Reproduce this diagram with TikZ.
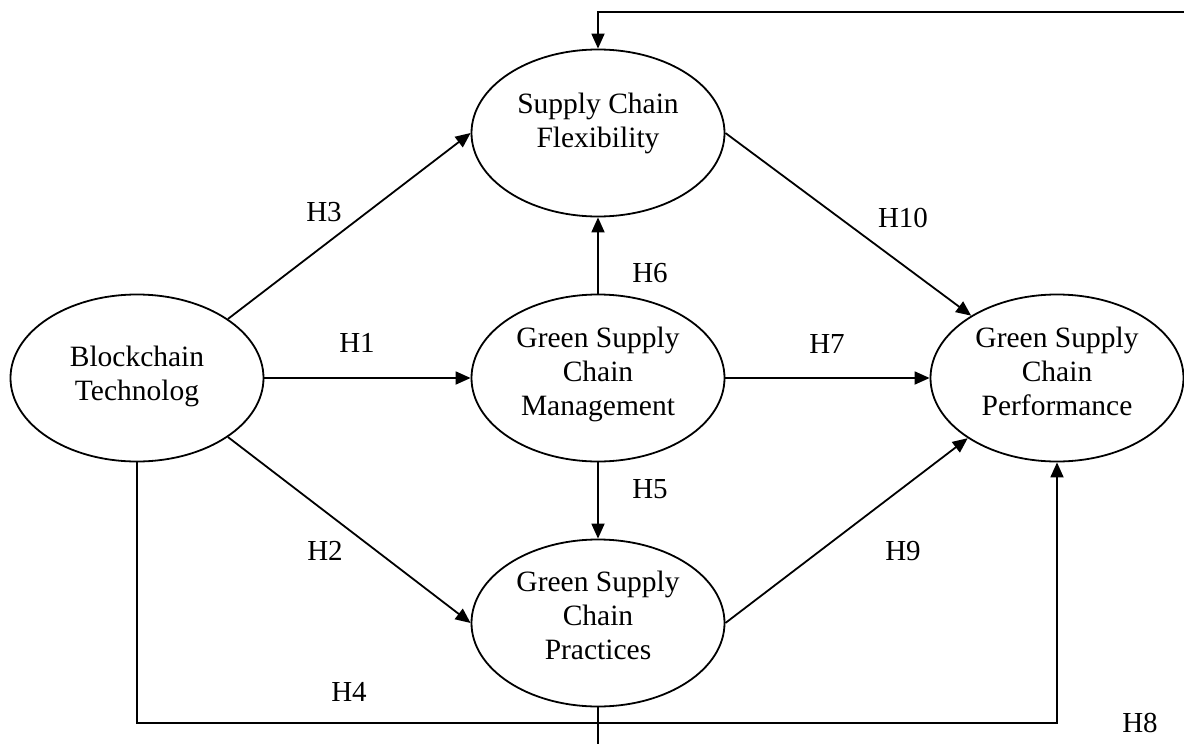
\documentclass[tikz,border=0pt]{standalone}
\usepackage{fontspec}
\setmainfont{Liberation Serif}
\usetikzlibrary{arrows.meta,shapes.geometric}
\begin{document}
\begin{tikzpicture}[x=1pt,y=-1pt,
  construct/.style={draw, ellipse, line width=1.8pt, minimum width=253pt, minimum height=167pt, inner sep=0pt, align=center, font=\fontsize{29.5}{34}\selectfont, text depth=0pt},
  hyp/.style={font=\fontsize{29}{34}\selectfont, inner sep=0pt, anchor=base},
  link/.style={line width=1.8pt, -{Triangle[length=15pt,width=13pt]}},
  plainline/.style={line width=1.8pt}
]
\useasboundingbox (0,0) rectangle (1184,744);

% constructs
\node[construct, text height=28pt] (scf) at (598,133) {Supply Chain\\Flexibility};
\node[construct, text height=44pt] (bt) at (137,378) {Blockchain\\Technolog};
\node[construct, text height=74pt] (gscm) at (598,378) {Green Supply\\Chain\\Management};
\node[construct, text height=74pt] (gscperf) at (1057,378) {Green Supply\\Chain\\Performance};
\node[construct, text height=72pt] (gscp) at (598,623) {Green Supply\\Chain\\Practices};

% free ends
\coordinate (topend) at (1184,12);
\coordinate (h4y) at (0,723);
\coordinate (botend) at (598,744);

% paths
\draw[link] (bt.east) -- (gscm.west);
\draw[link] (bt.33) -- (scf.west);
\draw[link] (bt.-33) -- (gscp.west);
\draw[link] (gscm.north) -- (scf.south);
\draw[link] (gscm.south) -- (gscp.north);
\draw[link] (gscm.east) -- (gscperf.west);
\draw[link] (scf.east) -- (gscperf.144);
\draw[link] (gscp.east) -- (gscperf.-146);
\draw[link] (bt.south) -- (bt.south |- h4y) -| (gscperf.south);
\draw[link] (topend) -| (scf.north);
\draw[plainline] (gscp.south) -- (botend);

% hypothesis labels
\node[hyp] (lh1) at (357,352) {H1};
\node[hyp] (lh2) at (325,560) {H2};
\node[hyp] (lh3) at (324,221) {H3};
\node[hyp] (lh4) at (349,701) {H4};
\node[hyp] (lh5) at (650,498) {H5};
\node[hyp] (lh6) at (650,282) {H6};
\node[hyp] (lh7) at (827,353) {H7};
\node[hyp] (lh8) at (1140,732) {H8};
\node[hyp] (lh9) at (903,560) {H9};
\node[hyp] (lh10) at (903,227) {H10};
\end{tikzpicture}
\end{document}
